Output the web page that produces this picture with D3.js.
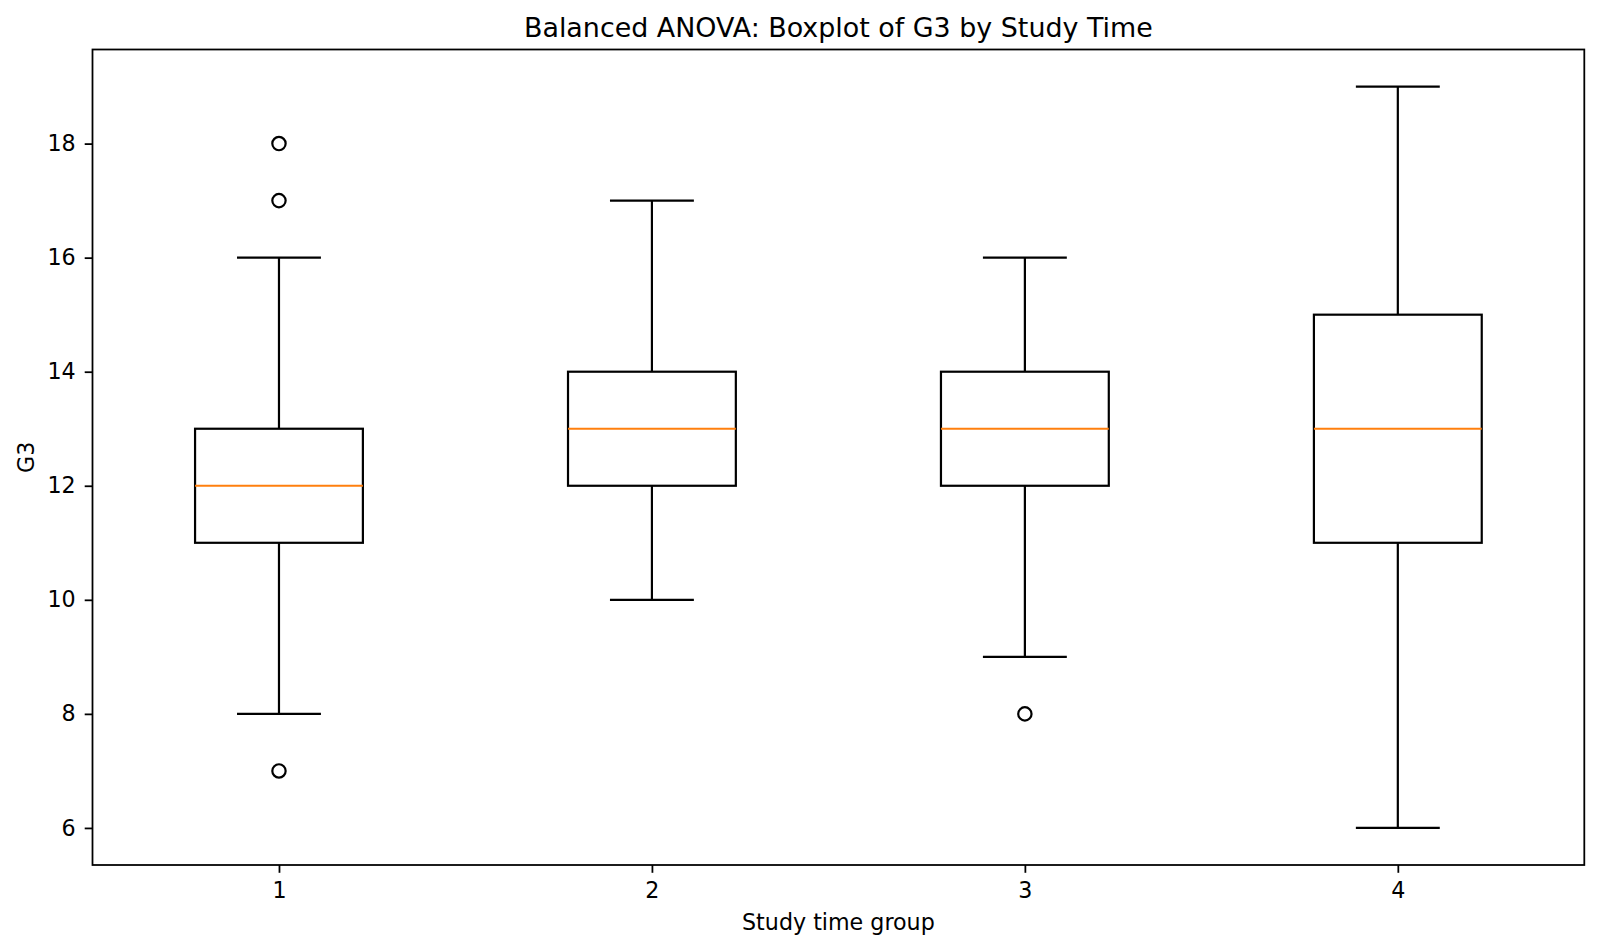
<!DOCTYPE html>
<html>
<head>
<meta charset="utf-8">
<script src="https://cdn.jsdelivr.net/npm/d3@7"></script>
<style>
  body { margin: 0; background: #ffffff; }
  svg text { font-family: "DejaVu Sans", sans-serif; fill: #000000; }
</style>
</head>
<body>
<script>

// study time groups and the five-number summaries
var groups     = ["1", "2", "3", "4"];
var whiskerLow = [8, 10, 9, 6];
var q1         = [11, 12, 12, 11];
var medians    = [12, 13, 13, 13];
var q3         = [13, 14, 14, 15];
var whiskerHigh = [16, 17, 16, 19];
var fliers     = [[7, 17, 18], [], [8], []];
var yTicks     = [6, 8, 10, 12, 14, 16, 18];

var translate = function(x, y) {
  return "translate(" + String(x) + ", " + String(y) + ")";
};

var width = 1600;
var height = 951;

var margin = {
  top:    49.5,
  right:  15.7,
  bottom: 86,
  left:   92.5
};
var plotWidth = width - margin.left - margin.right;
var plotHeight = height - margin.top - margin.bottom;

var svg = d3.select("body").append("svg")
  .attr("width", width)
  .attr("height", height);

/* Scales */
var xScale = d3.scaleLinear()
  .domain([0.5, 4.5])
  .range([0, plotWidth]);

var yScale = d3.scaleLinear()
  .domain([5.35, 19.65])
  .range([plotHeight, 0]);

var boxWidth = xScale(1.45) - xScale(1);
var capWidth = boxWidth / 2;

var rows = groups.map(function(g, i) {
  return {
    key: g,
    pos: i + 1,
    lo: whiskerLow[i],
    q1: q1[i],
    med: medians[i],
    q3: q3[i],
    hi: whiskerHigh[i],
    fliers: fliers[i]
  };
});

var plot = svg.append("g")
  .attr("id", "plot")
  .attr("transform", translate(margin.left, margin.top));

var boxes = plot.selectAll("g.box")
  .data(rows)
  .enter()
  .append("g")
  .attr("class", "box")
  .attr("transform", function(d) { return translate(xScale(d.pos), 0); });

// whiskers
boxes.append("line")
  .attr("x1", 0).attr("x2", 0)
  .attr("y1", function(d) { return yScale(d.q1); })
  .attr("y2", function(d) { return yScale(d.lo); });
boxes.append("line")
  .attr("x1", 0).attr("x2", 0)
  .attr("y1", function(d) { return yScale(d.q3); })
  .attr("y2", function(d) { return yScale(d.hi); });

// caps
boxes.append("line")
  .attr("x1", -capWidth / 2).attr("x2", capWidth / 2)
  .attr("y1", function(d) { return yScale(d.lo); })
  .attr("y2", function(d) { return yScale(d.lo); });
boxes.append("line")
  .attr("x1", -capWidth / 2).attr("x2", capWidth / 2)
  .attr("y1", function(d) { return yScale(d.hi); })
  .attr("y2", function(d) { return yScale(d.hi); });

boxes.selectAll("line")
  .attr("stroke", "#000000")
  .attr("stroke-width", 2.2);

// the box
boxes.append("rect")
  .attr("x", -boxWidth / 2)
  .attr("width", boxWidth)
  .attr("y", function(d) { return yScale(d.q3); })
  .attr("height", function(d) { return yScale(d.q1) - yScale(d.q3); })
  .attr("fill", "none")
  .attr("stroke", "#000000")
  .attr("stroke-width", 2.2);

// median
boxes.append("line")
  .attr("class", "median")
  .attr("x1", -boxWidth / 2).attr("x2", boxWidth / 2)
  .attr("y1", function(d) { return yScale(d.med); })
  .attr("y2", function(d) { return yScale(d.med); })
  .attr("stroke", "#ff7f0e")
  .attr("stroke-width", 2.2);

// outliers
boxes.selectAll("circle")
  .data(function(d) { return d.fliers; })
  .enter()
  .append("circle")
  .attr("cx", 0)
  .attr("cy", function(v) { return yScale(v); })
  .attr("r", 6.67)
  .attr("fill", "none")
  .attr("stroke", "#000000")
  .attr("stroke-width", 2.2);

/* Axes */
var xAxis = d3.axisBottom(xScale)
  .tickValues([1, 2, 3, 4])
  .tickFormat(function(d) { return groups[d - 1]; })
  .tickSizeInner(7.8)
  .tickSizeOuter(0)
  .tickPadding(9);

var yAxis = d3.axisLeft(yScale)
  .tickValues(yTicks)
  .tickFormat(d3.format("d"))
  .tickSizeInner(7.8)
  .tickSizeOuter(0)
  .tickPadding(9);

var gx = plot.append("g")
  .attr("id", "x-axis")
  .attr("transform", translate(0, plotHeight))
  .call(xAxis);

var gy = plot.append("g")
  .attr("id", "y-axis")
  .call(yAxis);

[gx, gy].forEach(function(g) {
  g.select(".domain").remove();
  g.selectAll(".tick line").attr("stroke", "#000000").attr("stroke-width", 1.78);
  g.selectAll(".tick text")
    .attr("font-size", "22.2px")
    .attr("font-family", "DejaVu Sans, sans-serif")
    .attr("fill", "#000000");
});

// frame
plot.append("rect")
  .attr("x", 0)
  .attr("y", 0)
  .attr("width", plotWidth)
  .attr("height", plotHeight)
  .attr("fill", "none")
  .attr("stroke", "#000000")
  .attr("stroke-width", 1.78);

/* Labels */
svg.append("text")
  .attr("x", margin.left + plotWidth / 2)
  .attr("y", 36.5)
  .attr("text-anchor", "middle")
  .attr("font-size", "26.9px")
  .text("Balanced ANOVA: Boxplot of G3 by Study Time");

svg.append("text")
  .attr("x", margin.left + plotWidth / 2)
  .attr("y", 930)
  .attr("text-anchor", "middle")
  .attr("font-size", "22.2px")
  .text("Study time group");

svg.append("text")
  .attr("transform", translate(34, margin.top + plotHeight / 2) + " rotate(-90)")
  .attr("text-anchor", "middle")
  .attr("font-size", "22.2px")
  .text("G3");

</script>
</body>
</html>
